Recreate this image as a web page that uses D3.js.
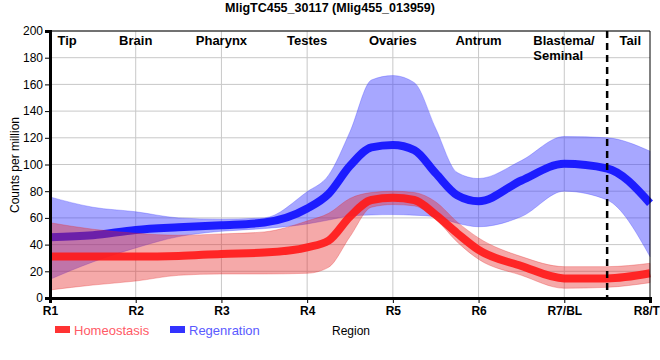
<!DOCTYPE html>
<html>
<head>
<meta charset="utf-8">
<script src="https://cdn.jsdelivr.net/npm/d3@7"></script>
<style>
  body { margin: 0; background: #fff; }
  svg { display: block; font-family: "Liberation Sans", Arial, sans-serif; }
</style>
</head>
<body>
<svg id="chart" width="660" height="360"></svg>
<script>
// ---- data (positions are along the region axis, R1 = 1) ----
const title = "MligTC455_30117 (Mlig455_013959)";
const categories = ["R1", "R2", "R3", "R4", "R5", "R6", "R7/BL", "R8/TL"];
const regionNames = ["Tip", "Brain", "Pharynx", "Testes", "Ovaries", "Antrum", "Blastema/|Seminal", "Tail"];
const positions  = [1, 1.5, 2, 2.5, 3, 3.5, 4, 4.25, 4.5, 4.75, 5, 5.25, 5.5, 5.75, 6, 6.5, 7, 7.5, 8];
const regenMean  = [45.5, 47, 51, 53, 54.5, 56.5, 67, 78, 99, 112.8, 114.6, 110.8, 93.4, 77, 72.5, 88, 100.5, 97, 71];
const regenUpper = [75.7, 68, 64.6, 60, 59, 60, 79.6, 92, 124.6, 163.3, 166.6, 161.3, 127, 94, 89.5, 103, 121, 120, 110];
const regenLower = [14, 27, 37.5, 46, 50, 52, 55.5, 58.4, 61.4, 62.2, 62.5, 62, 60.9, 56, 53.4, 61, 80, 73.4, 31];
const homeoMean  = [31, 31, 31, 31.5, 33, 34, 38, 43, 61, 73.4, 75.1, 73.4, 62.2, 48.5, 36, 24, 14.7, 14.7, 18.5];
const homeoUpper = [56.4, 51.5, 48.5, 47, 48, 49.5, 57.7, 63.4, 74.6, 79, 80, 79, 72, 57, 45, 31, 23.5, 23.5, 26];
const homeoLower = [6, 9.7, 12.7, 17, 18, 18, 18.5, 23, 46, 68, 70, 69, 59, 42, 29, 17, 7.3, 8, 11.5];
const seriesNames = ["Homeostasis", "Regenration"];
const yTicks = [0, 20, 40, 60, 80, 100, 120, 140, 160, 180, 200];
const dividerPos = 7.5;
const regionPos = [1.2, 2, 3, 4, 5, 6, 7, 7.77];

// ---- layout ----
const svg = d3.select("#chart");
const L = 50, R = 650, T = 31, B = 298;
const x = d3.scaleLinear().domain([1, categories.length]).range([L, R]);
const y = d3.scaleLinear().domain([0, 200]).range([B, T]);
const catIdx = d3.range(1, categories.length + 1);
const curve = d3.curveMonotoneX;

// grid
svg.append("g").selectAll("line").data(yTicks.slice(1)).join("line")
  .attr("x1", L).attr("x2", R).attr("y1", d => y(d)).attr("y2", d => y(d))
  .attr("stroke", "#c8c8c8").attr("stroke-width", 1);
svg.append("g").selectAll("line").data(catIdx.slice(1, -1)).join("line")
  .attr("x1", d => x(d)).attr("x2", d => x(d)).attr("y1", T).attr("y2", B)
  .attr("stroke", "#c8c8c8").attr("stroke-width", 1);

const area = (lo, hi) => d3.area().curve(curve)
  .x(d => x(d)).y0((d, i) => y(lo[i])).y1((d, i) => y(hi[i]))(positions);
const line = vals => d3.line().curve(curve)
  .x(d => x(d)).y((d, i) => y(vals[i]))(positions);

// regeneration band + line
svg.append("path").attr("d", area(regenLower, regenUpper))
  .attr("fill", "rgb(60,60,255)").attr("fill-opacity", 0.45)
  .attr("stroke", "rgb(60,60,255)").attr("stroke-opacity", 0.3);
svg.append("path").attr("d", line(regenMean))
  .attr("fill", "none").attr("stroke", "#1010ff").attr("stroke-opacity", 0.92).attr("stroke-width", 8);
// homeostasis band + line
svg.append("path").attr("d", area(homeoLower, homeoUpper))
  .attr("fill", "rgb(230,40,40)").attr("fill-opacity", 0.4)
  .attr("stroke", "rgb(230,40,40)").attr("stroke-opacity", 0.3);
svg.append("path").attr("d", line(homeoMean))
  .attr("fill", "none").attr("stroke", "#ff1a1a").attr("stroke-opacity", 0.92).attr("stroke-width", 8);

// divider
svg.append("line").attr("x1", x(dividerPos)).attr("x2", x(dividerPos)).attr("y1", T).attr("y2", B)
  .attr("stroke", "#000").attr("stroke-width", 2.5).attr("stroke-dasharray", "7,5");

// frame
svg.append("line").attr("x1", L).attr("x2", R).attr("y1", T).attr("y2", T).attr("stroke", "#000").attr("stroke-width", 1);
svg.append("line").attr("x1", R).attr("x2", R).attr("y1", T).attr("y2", B).attr("stroke", "#000").attr("stroke-width", 1);

// y axis
const yAxis = svg.append("g").attr("transform", `translate(${L},0)`)
  .call(d3.axisLeft(y).tickValues(yTicks).tickSize(5).tickPadding(2));
yAxis.select(".domain").attr("stroke-width", 3);
yAxis.selectAll("text").attr("font-size", 12).attr("fill", "#000").attr("font-family", "Liberation Sans, Arial, sans-serif");

// x axis
const xAxis = svg.append("g").attr("transform", `translate(0,${B})`)
  .call(d3.axisBottom(x).tickValues(catIdx).tickFormat(d => categories[d - 1]).tickSize(5).tickPadding(3));
xAxis.select(".domain").attr("stroke-width", 3);
xAxis.selectAll("text").attr("font-size", 12).attr("font-weight", "bold").attr("fill", "#000")
  .attr("font-family", "Liberation Sans, Arial, sans-serif");

// region labels
regionNames.forEach((name, i) => {
  const parts = name.split("|");
  const multi = parts.length > 1;
  const tx = x(regionPos[i]) - (multi ? 31 : 0);
  const t = svg.append("text").attr("font-size", 13).attr("font-weight", "bold")
    .attr("text-anchor", multi ? "start" : "middle");
  parts.forEach((p, j) => t.append("tspan").attr("x", tx).attr("y", 45 + j * 15).text(p));
});

// title
svg.append("text").attr("x", 330).attr("y", 12).attr("text-anchor", "middle")
  .attr("font-size", 12.5).attr("font-weight", "bold").text(title);

// y label
svg.append("text").attr("transform", "translate(19,165) rotate(-90)").attr("text-anchor", "middle")
  .attr("font-size", 12).text("Counts per million");

// x label
svg.append("text").attr("x", 351).attr("y", 335).attr("text-anchor", "middle")
  .attr("font-size", 12).text("Region");

// legend
const legendColors = ["#ff3333", "#3333ff"];
const legendText = ["#ff5a66", "#5a5aff"];
const legendX = [55, 170];
seriesNames.forEach((n, i) => {
  svg.append("rect").attr("x", legendX[i]).attr("y", 326).attr("width", 15).attr("height", 7).attr("fill", legendColors[i]);
  svg.append("text").attr("x", legendX[i] + 19).attr("y", 334.5).attr("font-size", 13)
    .attr("fill", legendText[i]).text(n);
});
</script>
</body>
</html>
